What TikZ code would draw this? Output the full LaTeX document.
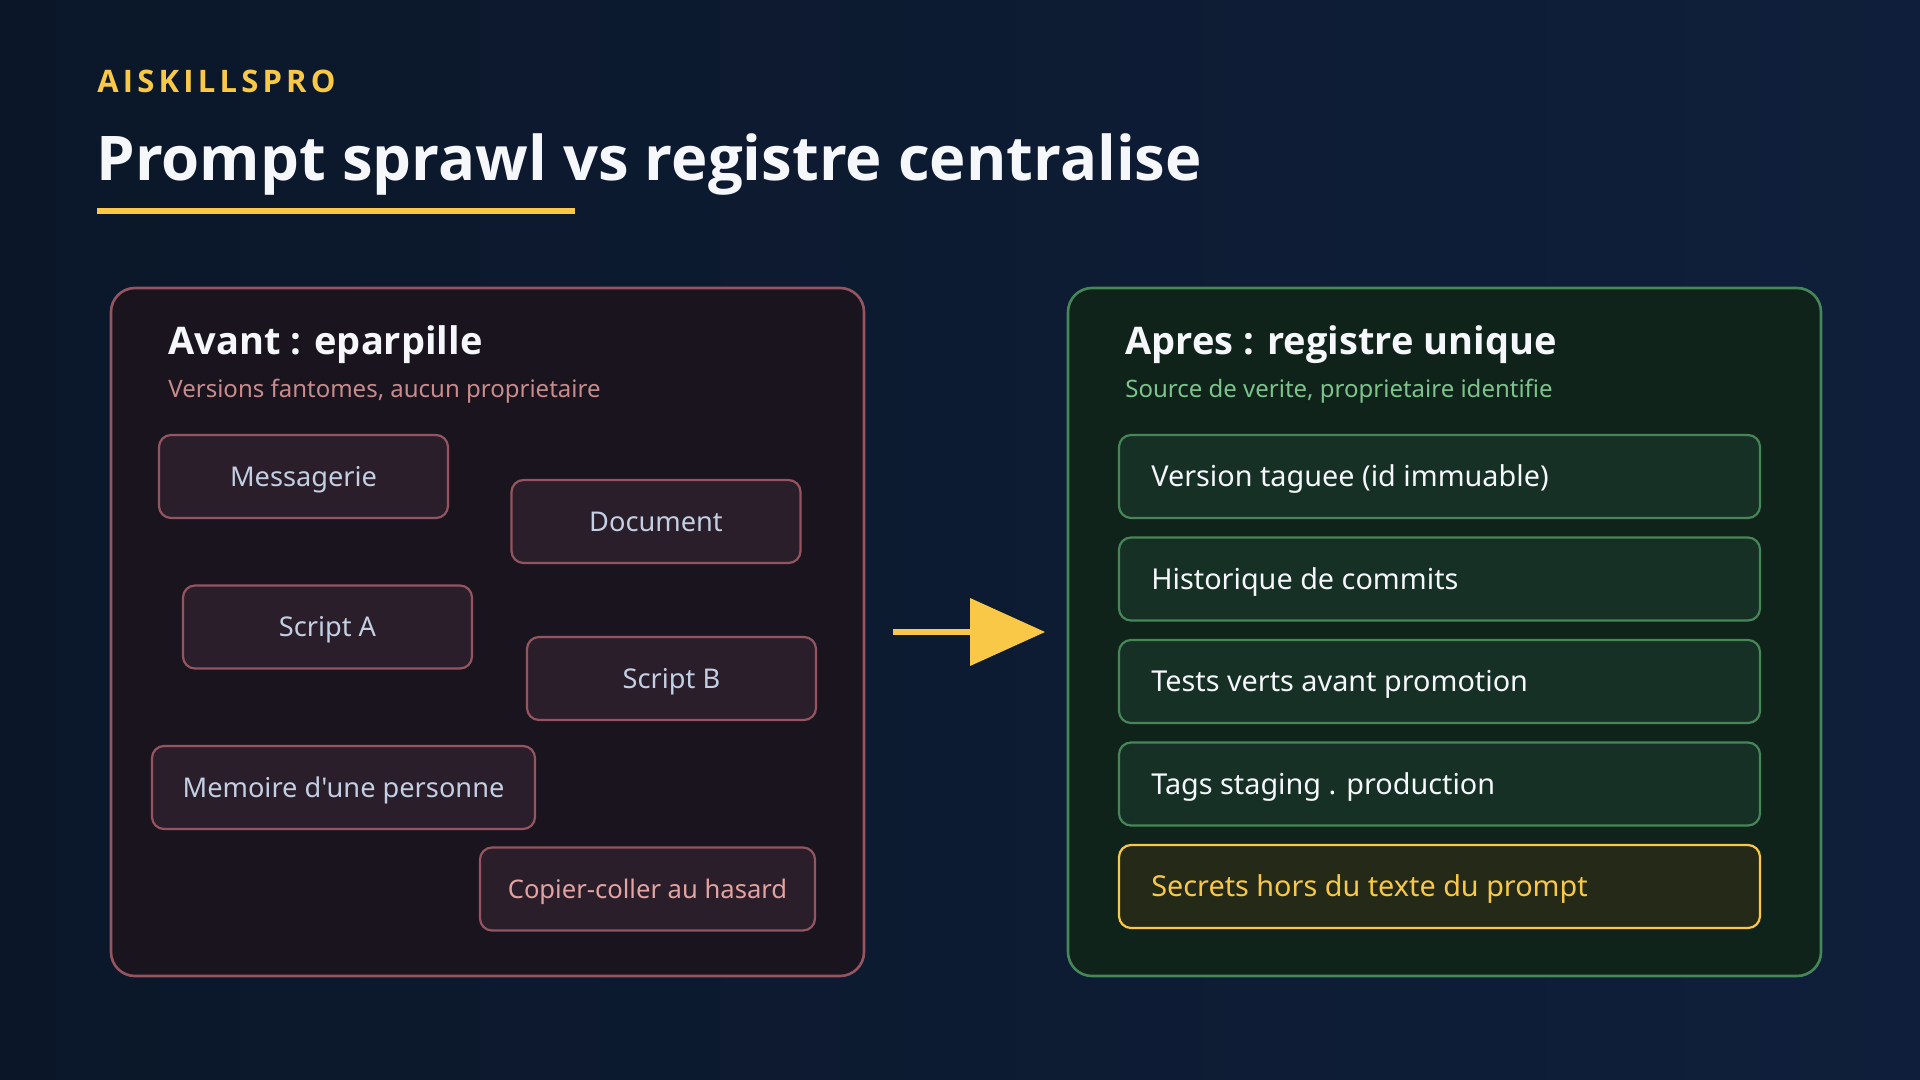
\documentclass[tikz,border=0pt]{standalone}
\usepackage{fontspec}
\setmainfont{Noto Sans}
\newfontfamily\boxfam{Noto Sans}
\newfontfamily\boldfam{Open Sans}
\newfontfamily\brandfont[LetterSpace=13.5]{Open Sans}
\usetikzlibrary{arrows.meta}
\definecolor{bgA}{HTML}{0B1729}
\definecolor{bgB}{HTML}{0F1F3B}
\definecolor{accent}{HTML}{F9C846}
\definecolor{titlecol}{HTML}{F5F7FA}
\definecolor{redpanel}{HTML}{1A141F}
\definecolor{redborder}{HTML}{935660}
\definecolor{redbox}{HTML}{2B1E2B}
\definecolor{redsub}{HTML}{C98B8B}
\definecolor{boxtext}{HTML}{C3CFE2}
\definecolor{copytext}{HTML}{E3A3A0}
\definecolor{greenpanel}{HTML}{10231A}
\definecolor{greenborder}{HTML}{468658}
\definecolor{greenbox}{HTML}{163026}
\definecolor{greensub}{HTML}{7CC48C}
\definecolor{secretbox}{HTML}{242A17}
\tikzset{
  panel/.style={line width=1.3pt, rounded corners=12pt},
  redpanelstyle/.style={panel, draw=redborder, fill=redpanel},
  greenpanelstyle/.style={panel, draw=greenborder, fill=greenpanel},
  lbox/.style={draw=redborder, fill=redbox, line width=1.1pt, rounded corners=6pt,
    minimum height=41.5pt, text=boxtext, font=\boxfam\fontsize{13.6}{16}\selectfont,
    inner sep=0pt, text height=9.8pt, text depth=0pt},
  rbox/.style={draw=greenborder, fill=greenbox, line width=1.1pt, rounded corners=6pt,
    minimum height=41.5pt, minimum width=320.5pt, inner sep=0pt},
  rtext/.style={anchor=base west, text=titlecol, font=\boxfam\fontsize{14.4}{17}\selectfont, inner sep=0pt},
  ptitle/.style={anchor=base west, text=titlecol, font=\boldfam\bfseries\fontsize{19}{22}\selectfont, inner sep=0pt},
  psub/.style={anchor=base west, font=\fontsize{12}{14}\selectfont, inner sep=0pt},
}
\begin{document}
\begin{tikzpicture}[x=0.5pt,y=-0.5pt]
\fill[bgA] (0,0) rectangle (1920,1080);
\shade[left color=bgA, right color=bgB] (0,0) rectangle (1920,1080);
\useasboundingbox (0,0) rectangle (1920,1080);

% header
\node[anchor=base west, inner sep=0pt, text=accent, font=\brandfont\bfseries\fontsize{15.5}{18}\selectfont] (brand) at (97,93) {AISKILLSPRO};
\node[anchor=base west, inner sep=0pt, text=titlecol, font=\boldfam\bfseries\fontsize{30.8}{36}\selectfont] (title) at (96,181) {Prompt sprawl vs registre centralise};
\fill[accent] (97,208) rectangle (575,214);

% left panel
\draw[redpanelstyle] (111,288) rectangle (864,976);
\node[ptitle] (ltitle) at (168,355) {Avant : eparpille};
\node[psub, text=redsub] (lsub) at (168,397) {Versions fantomes, aucun proprietaire};

\node[lbox, minimum width=144.5pt] (msg) at (303.5,476.5) {Messagerie};
\node[lbox, minimum width=144.5pt] (doc) at (656,521.5) {Document};
\node[lbox, minimum width=144.5pt] (sa) at (327.5,627) {Script A};
\node[lbox, minimum width=144.5pt] (sb) at (671.5,678.5) {Script B};
\node[lbox, minimum width=191.5pt] (mem) at (343.5,787.5) {Memoire d'une personne};
\node[lbox, minimum width=167.5pt, text=copytext, font=\boxfam\fontsize{12.8}{15}\selectfont] (copy) at (647.5,889) {Copier-coller au hasard};

% right panel
\draw[greenpanelstyle] (1068,288) rectangle (1821,976);
\node[ptitle] (rtitle) at (1125,355) {Apres : registre unique};
\node[psub, text=greensub] (rsub) at (1125,397) {Source de verite, proprietaire identifie};

\node[rbox] (r1) at (1439.5,476.5) {};
\node[rbox] (r2) at (1439.5,579) {};
\node[rbox] (r3) at (1439.5,681.5) {};
\node[rbox] (r4) at (1439.5,784) {};
\node[rbox, draw=accent, fill=secretbox] (r5) at (1439.5,886.5) {};
\node[rtext] (t1) at ([xshift=16.5pt,yshift=-5.2pt]r1.west) {Version taguee (id immuable)};
\node[rtext] (t2) at ([xshift=16.5pt,yshift=-5.2pt]r2.west) {Historique de commits};
\node[rtext] (t3) at ([xshift=16.5pt,yshift=-5.2pt]r3.west) {Tests verts avant promotion};
\node[rtext] (t4) at ([xshift=16.5pt,yshift=-5.2pt]r4.west) {Tags staging . production};
\node[rtext, text=accent] (t5) at ([xshift=16.5pt,yshift=-5.2pt]r5.west) {Secrets hors du texte du prompt};

% arrow
\coordinate (astart) at (893,632);
\coordinate (abase) at (970,632);
\coordinate (atip) at (1045,632);
\draw[accent, line width=3pt] (astart) -- (abase);
\fill[accent] ([yshift=17pt]abase) -- (atip) -- ([yshift=-17pt]abase) -- cycle;
\end{tikzpicture}
\end{document}
